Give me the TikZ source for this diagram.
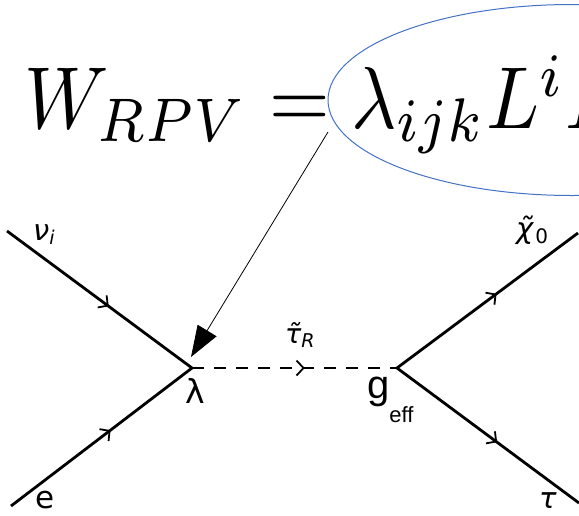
\documentclass[tikz,border=0pt]{standalone}
\usepackage{fontspec}
\newfontfamily\lab{DejaVu Sans}
\newfontfamily\labarial{Liberation Sans}
\usetikzlibrary{arrows.meta,decorations.markings}
\definecolor{ellblue}{HTML}{4472C4}
\tikzset{
  fermion/.style={line width=2.8pt, postaction={decorate},
    decoration={markings, mark=at position 0.55 with {\arrow{Straight Barb[length=7pt,width=15pt,line width=1.8pt]}}}},
  scalar/.style={line width=2.8pt, dash pattern=on 12pt off 10pt, postaction={decorate},
    decoration={markings, mark=at position 0.55 with {\arrow{Straight Barb[length=7pt,width=15pt,line width=1.8pt]}}}},
  lbl/.style={inner sep=0pt, font=\lab, anchor=base west},
  pointer/.style={line width=0.8pt, -{Triangle[length=31pt,width=22pt]}}
}
\begin{document}
\begin{tikzpicture}[x=1pt,y=-1pt]
\useasboundingbox (0,0) rectangle (579,515);
\clip (0,0) rectangle (579,515);
\fill[white] (0,0) rectangle (579,515);
% formula
\node[anchor=base west, inner sep=0pt] (formula) at (24,128) {\scalebox{7.8}[8.8]{$W_{RPV}=\lambda_{ijk}L^iL$}};
\draw[ellblue, line width=1pt] (572,100) ellipse [x radius=244, y radius=95.5];
% vertices and ends
\coordinate (v1) at (192,368);
\coordinate (v2) at (397,368);
\coordinate (nu) at (7,231);
\coordinate (el) at (11,506);
\coordinate (chi) at (578,233);
\coordinate (ta) at (579,503);
\coordinate (astart) at (328,132);
\coordinate (atip) at (191,357);
% lines
\draw[fermion] (nu) -- (v1);
\draw[fermion] (el) -- (v1);
\draw[scalar] (v1) -- (v2);
\draw[fermion] (v2) -- (chi);
\draw[fermion] (v2) -- (ta);
\draw[pointer] (astart) -- (atip);
% labels
\node[lbl] (lnu) at (33,240) {\fontsize{29}{29}\selectfont\itshape ν\raisebox{-4pt}{\fontsize{19}{19}\selectfont i}};
\node[lbl] (le) at (35,508) {\fontsize{31}{31}\selectfont e};
\node[lbl] (ltau) at (539,508) {\fontsize{29}{29}\selectfont\itshape τ};
\node[lbl] (lchi) at (516,238) {\fontsize{29}{29}\selectfont\itshape \~{χ}\upshape\hspace{2pt}\raisebox{-5pt}{\fontsize{20}{20}\selectfont 0}};
\node[lbl] (lstau) at (285,343) {\fontsize{27}{27}\selectfont\itshape \~{τ}\raisebox{-4pt}{\fontsize{19}{19}\selectfont R}};
\node[lbl] (llam) at (185,403) {\fontsize{33}{33}\selectfont λ};
\node[inner sep=0pt, font=\labarial, anchor=base west] (lg) at (367,398) {\fontsize{40}{40}\selectfont g\raisebox{-24pt}{\fontsize{22}{22}\selectfont eff}};
\end{tikzpicture}
\end{document}
